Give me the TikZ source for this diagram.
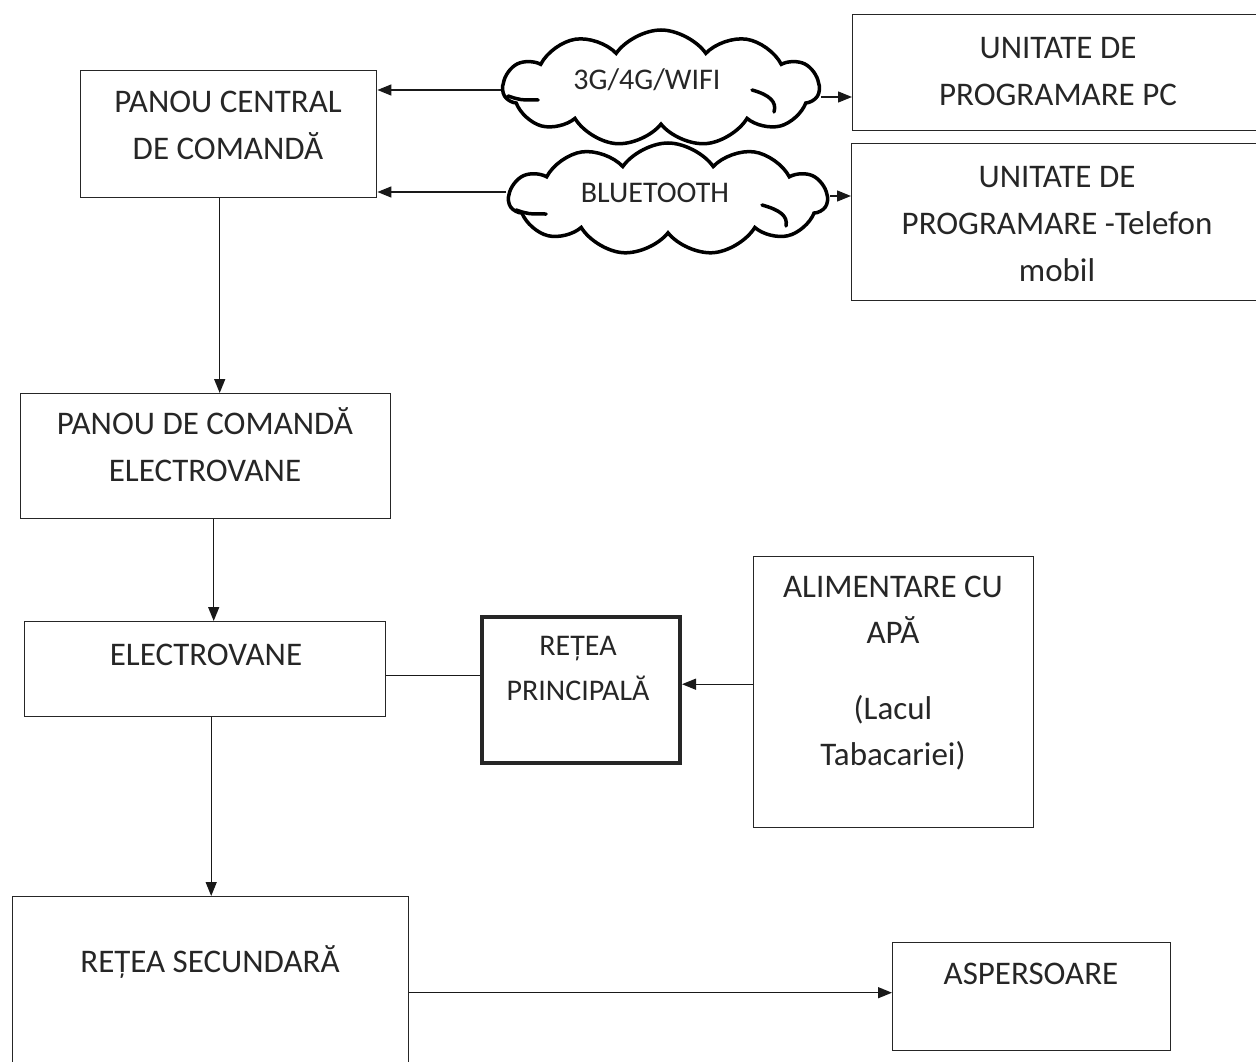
\documentclass[tikz,border=0pt]{standalone}
\usepackage{fontspec}
\setmainfont{Carlito}
\usetikzlibrary{shapes.symbols,arrows.meta}
\begin{document}
\begin{tikzpicture}[x=1pt,y=-1pt,
  box/.style={draw=black!85,line width=1.4pt,anchor=north west,inner sep=0pt,rectangle},
  thickbox/.style={box,line width=4pt},
  txt/.style={font=\fontsize{33}{47}\selectfont,align=center,inner sep=0pt,text=black!85},
  ctxt/.style={font=\fontsize{30}{36}\selectfont,inner sep=0pt,text=black!85},
  cloudshape/.style={cloud,draw=black,line width=3.5pt,cloud puffs=11,cloud puff arc=110,inner sep=0pt},
  curl/.style={draw=black,line width=3.5pt,line cap=round},
  arr/.style={draw=black!90,line width=1.4pt,-{Triangle[length=14pt,width=11pt]}},
  ln/.style={draw=black!90,line width=1.4pt}]
\useasboundingbox (0,0) rectangle (1256,1062);
\clip (0,0) rectangle (1256,1062);
% boxes
\node[box,minimum width=296,minimum height=127] (b1) at (80,70) {};
\node[box,minimum width=420,minimum height=116] (b2) at (852,14) {};
\node[box,minimum width=420,minimum height=157] (b3) at (851,143) {};
\node[box,minimum width=370,minimum height=125] (b4) at (20,393) {};
\node[box,minimum width=361,minimum height=95] (b5) at (24,621) {};
\node[thickbox,minimum width=198,minimum height=146] (b6) at (480,615) {};
\node[box,minimum width=280,minimum height=271] (b7) at (753,556) {};
\node[box,minimum width=396,minimum height=200] (b8) at (12,896) {};
\node[box,minimum width=278,minimum height=108] (b9) at (892,942) {};
% texts
\node[txt] (t1) at (228,125) {PANOU CENTRAL\\DE COMANDĂ};
\node[txt] (t2) at (1058,72) {UNITATE DE\\PROGRAMARE PC};
\node[txt] (t3) at (1057,224) {UNITATE DE\\PROGRAMARE -Telefon\\mobil};
\node[txt] (t4) at (205,445) {PANOU DE COMANDĂ\\ELECTROVANE};
\node[txt] (t5) at (206,655) {ELECTROVANE};
\node[txt,font=\fontsize{30}{45}\selectfont] (t6) at (578,668) {REȚEA\\PRINCIPALĂ};
\node[txt,font=\fontsize{33}{46}\selectfont] (t7a) at (893,610) {ALIMENTARE CU\\APĂ};
\node[txt,font=\fontsize{33}{46}\selectfont] (t7b) at (893,733) {(Lacul\\Tabacariei)};
\node[txt] (t8) at (210,962) {REȚEA SECUNDARĂ};
\node[txt] (t9) at (1031,974) {ASPERSOARE};
% clouds
\node[cloudshape,minimum width=316,minimum height=116] (c1) at (661,88) {};
\node[ctxt] (ct1) at (647,80) {3G/4G/WIFI};
\node[cloudshape,minimum width=318,minimum height=112] (c2) at (668,199) {};
\node[ctxt] (ct2) at (655,193) {BLUETOOTH};
% inner curls
\draw[curl] (508,96) .. controls (520,100) .. (538,100);
\draw[curl] (752,90) .. controls (770,95) and (777,102) .. (774,112);
\draw[curl] (516,210) .. controls (528,214) .. (546,214);
\draw[curl] (762,205) .. controls (780,210) and (788,216) .. (786,226);
% connectors
\draw[arr] ([yshift=-2pt]c1.west) -- ([yshift=-2pt]c1.west -| b1.east);
\draw[arr] ([yshift=-9pt]c1.east) -- ([yshift=-9pt]c1.east -| b2.west);
\draw[arr] ([yshift=7pt]c2.west) -- ([yshift=7pt]c2.west -| b1.east);
\draw[arr] ([yshift=3pt]c2.east) -- ([yshift=3pt]c2.east -| b3.west);
\draw[arr] ([xshift=-9pt]b1.south) -- ([xshift=-9pt]b1.south |- b4.north);
\draw[arr] ([xshift=8pt]b4.south) -- ([xshift=8pt]b4.south |- b5.north);
\draw[arr] ([xshift=6pt]b5.south) -- ([xshift=6pt]b5.south |- b8.north);
\draw[ln] ([yshift=-6pt]b5.east) -- ([yshift=-6pt]b5.east -| b6.west);
\draw[arr] ([yshift=8pt]b7.west) -- ([yshift=8pt]b7.west -| b6.east);
\draw[arr] ([yshift=4pt]b9.west -| b8.east) -- ([yshift=4pt]b9.west);
\end{tikzpicture}
\end{document}
